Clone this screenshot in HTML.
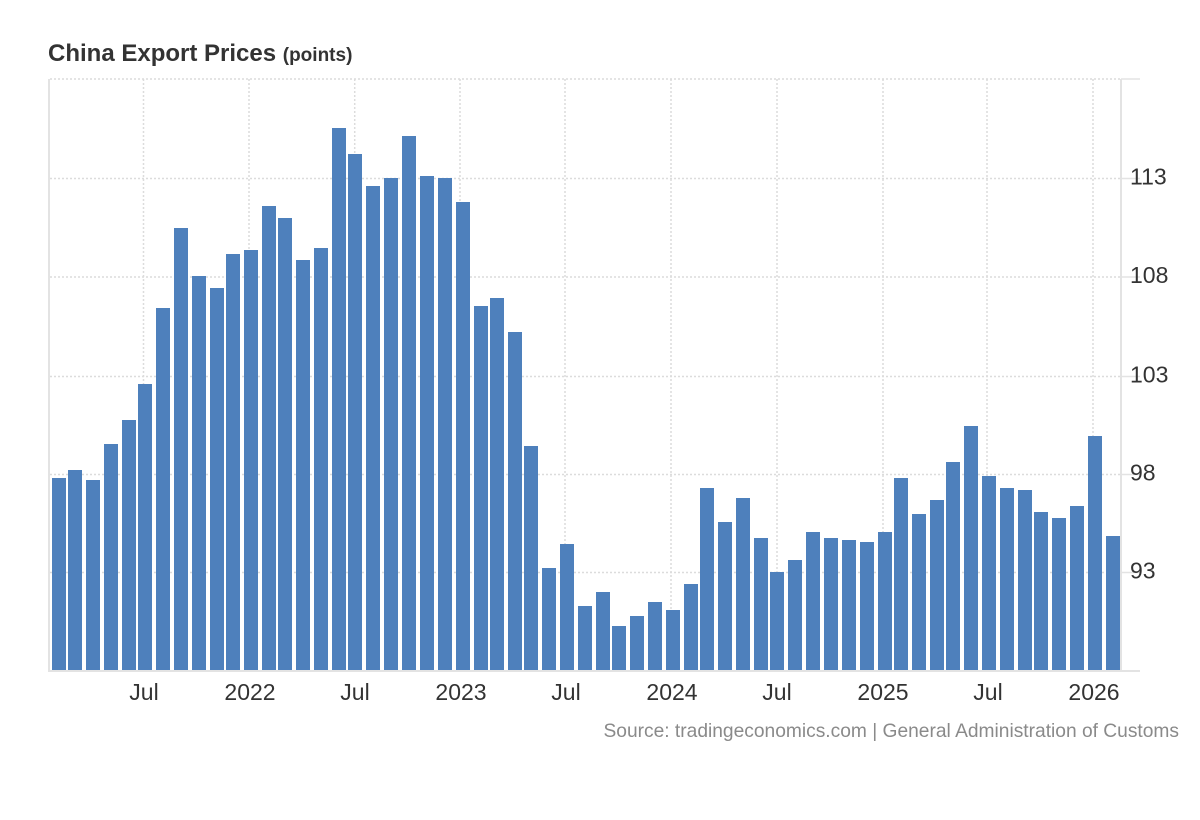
<!DOCTYPE html>
<html><head><meta charset="utf-8"><style>
html,body{margin:0;padding:0;background:#fff;}
svg{display:block;font-family:"Liberation Sans",Arial,sans-serif;}
</style></head><body>
<svg width="1200" height="820" viewBox="0 0 1200 820" xmlns="http://www.w3.org/2000/svg">
<rect width="1200" height="820" fill="#fff"/>
<text x="48" y="61" font-size="24" font-weight="bold" fill="#333">China Export Prices <tspan font-size="19">(points)</tspan></text>
<g stroke="#dcdcdc" stroke-width="1.5" stroke-dasharray="2,2" fill="none">
<line x1="50" y1="79" x2="1121" y2="79"/>
<line x1="50" y1="178.5" x2="1121" y2="178.5"/>
<line x1="50" y1="277" x2="1121" y2="277"/>
<line x1="50" y1="376.5" x2="1121" y2="376.5"/>
<line x1="50" y1="474.5" x2="1121" y2="474.5"/>
<line x1="50" y1="572.5" x2="1121" y2="572.5"/>
<line x1="143.5" y1="79" x2="143.5" y2="670"/>
<line x1="249" y1="79" x2="249" y2="670"/>
<line x1="354.7" y1="79" x2="354.7" y2="670"/>
<line x1="460" y1="79" x2="460" y2="670"/>
<line x1="565" y1="79" x2="565" y2="670"/>
<line x1="671" y1="79" x2="671" y2="670"/>
<line x1="777" y1="79" x2="777" y2="670"/>
<line x1="883" y1="79" x2="883" y2="670"/>
<line x1="987" y1="79" x2="987" y2="670"/>
<line x1="1093" y1="79" x2="1093" y2="670"/>
</g>
<g stroke="#e3e3e3" fill="none">
<line x1="49" y1="79" x2="49" y2="671" stroke-width="2"/>
<line x1="1121" y1="79" x2="1121" y2="671" stroke-width="2"/>
<line x1="48" y1="671" x2="1140" y2="671" stroke-width="2"/>
<line x1="1121" y1="79" x2="1140" y2="79" stroke-width="1.5"/>
<line x1="1121" y1="178.5" x2="1140" y2="178.5" stroke-width="1.5"/>
<line x1="1121" y1="277" x2="1140" y2="277" stroke-width="1.5"/>
<line x1="1121" y1="376.5" x2="1140" y2="376.5" stroke-width="1.5"/>
<line x1="1121" y1="474.5" x2="1140" y2="474.5" stroke-width="1.5"/>
<line x1="1121" y1="572.5" x2="1140" y2="572.5" stroke-width="1.5"/>
</g>
<g fill="#4e80bc">
<rect x="52" y="478" width="14" height="192"/>
<rect x="68" y="470" width="14" height="200"/>
<rect x="86" y="480" width="14" height="190"/>
<rect x="104" y="444" width="14" height="226"/>
<rect x="122" y="420" width="14" height="250"/>
<rect x="138" y="384" width="14" height="286"/>
<rect x="156" y="308" width="14" height="362"/>
<rect x="174" y="228" width="14" height="442"/>
<rect x="192" y="276" width="14" height="394"/>
<rect x="210" y="288" width="14" height="382"/>
<rect x="226" y="254" width="14" height="416"/>
<rect x="244" y="250" width="14" height="420"/>
<rect x="262" y="206" width="14" height="464"/>
<rect x="278" y="218" width="14" height="452"/>
<rect x="296" y="260" width="14" height="410"/>
<rect x="314" y="248" width="14" height="422"/>
<rect x="332" y="128" width="14" height="542"/>
<rect x="348" y="154" width="14" height="516"/>
<rect x="366" y="186" width="14" height="484"/>
<rect x="384" y="178" width="14" height="492"/>
<rect x="402" y="136" width="14" height="534"/>
<rect x="420" y="176" width="14" height="494"/>
<rect x="438" y="178" width="14" height="492"/>
<rect x="456" y="202" width="14" height="468"/>
<rect x="474" y="306" width="14" height="364"/>
<rect x="490" y="298" width="14" height="372"/>
<rect x="508" y="332" width="14" height="338"/>
<rect x="524" y="446" width="14" height="224"/>
<rect x="542" y="568" width="14" height="102"/>
<rect x="560" y="544" width="14" height="126"/>
<rect x="578" y="606" width="14" height="64"/>
<rect x="596" y="592" width="14" height="78"/>
<rect x="612" y="626" width="14" height="44"/>
<rect x="630" y="616" width="14" height="54"/>
<rect x="648" y="602" width="14" height="68"/>
<rect x="666" y="610" width="14" height="60"/>
<rect x="684" y="584" width="14" height="86"/>
<rect x="700" y="488" width="14" height="182"/>
<rect x="718" y="522" width="14" height="148"/>
<rect x="736" y="498" width="14" height="172"/>
<rect x="754" y="538" width="14" height="132"/>
<rect x="770" y="572" width="14" height="98"/>
<rect x="788" y="560" width="14" height="110"/>
<rect x="806" y="532" width="14" height="138"/>
<rect x="824" y="538" width="14" height="132"/>
<rect x="842" y="540" width="14" height="130"/>
<rect x="860" y="542" width="14" height="128"/>
<rect x="878" y="532" width="14" height="138"/>
<rect x="894" y="478" width="14" height="192"/>
<rect x="912" y="514" width="14" height="156"/>
<rect x="930" y="500" width="14" height="170"/>
<rect x="946" y="462" width="14" height="208"/>
<rect x="964" y="426" width="14" height="244"/>
<rect x="982" y="476" width="14" height="194"/>
<rect x="1000" y="488" width="14" height="182"/>
<rect x="1018" y="490" width="14" height="180"/>
<rect x="1034" y="512" width="14" height="158"/>
<rect x="1052" y="518" width="14" height="152"/>
<rect x="1070" y="506" width="14" height="164"/>
<rect x="1088" y="436" width="14" height="234"/>
<rect x="1106" y="536" width="14" height="134"/>
</g>
<g font-size="23" fill="#333">
<text x="1130" y="184.5">113</text>
<text x="1130" y="283">108</text>
<text x="1130" y="382.5">103</text>
<text x="1130" y="480.5">98</text>
<text x="1130" y="578.5">93</text>
</g>
<g font-size="23" fill="#333" text-anchor="middle">
<text x="144" y="700">Jul</text>
<text x="250" y="700">2022</text>
<text x="355" y="700">Jul</text>
<text x="461" y="700">2023</text>
<text x="566" y="700">Jul</text>
<text x="672" y="700">2024</text>
<text x="777" y="700">Jul</text>
<text x="883" y="700">2025</text>
<text x="988" y="700">Jul</text>
<text x="1094" y="700">2026</text>
</g>
<text x="1179" y="737" font-size="19.2" fill="#8a8a8a" text-anchor="end">Source: tradingeconomics.com | General Administration of Customs</text>
</svg>
</body></html>
